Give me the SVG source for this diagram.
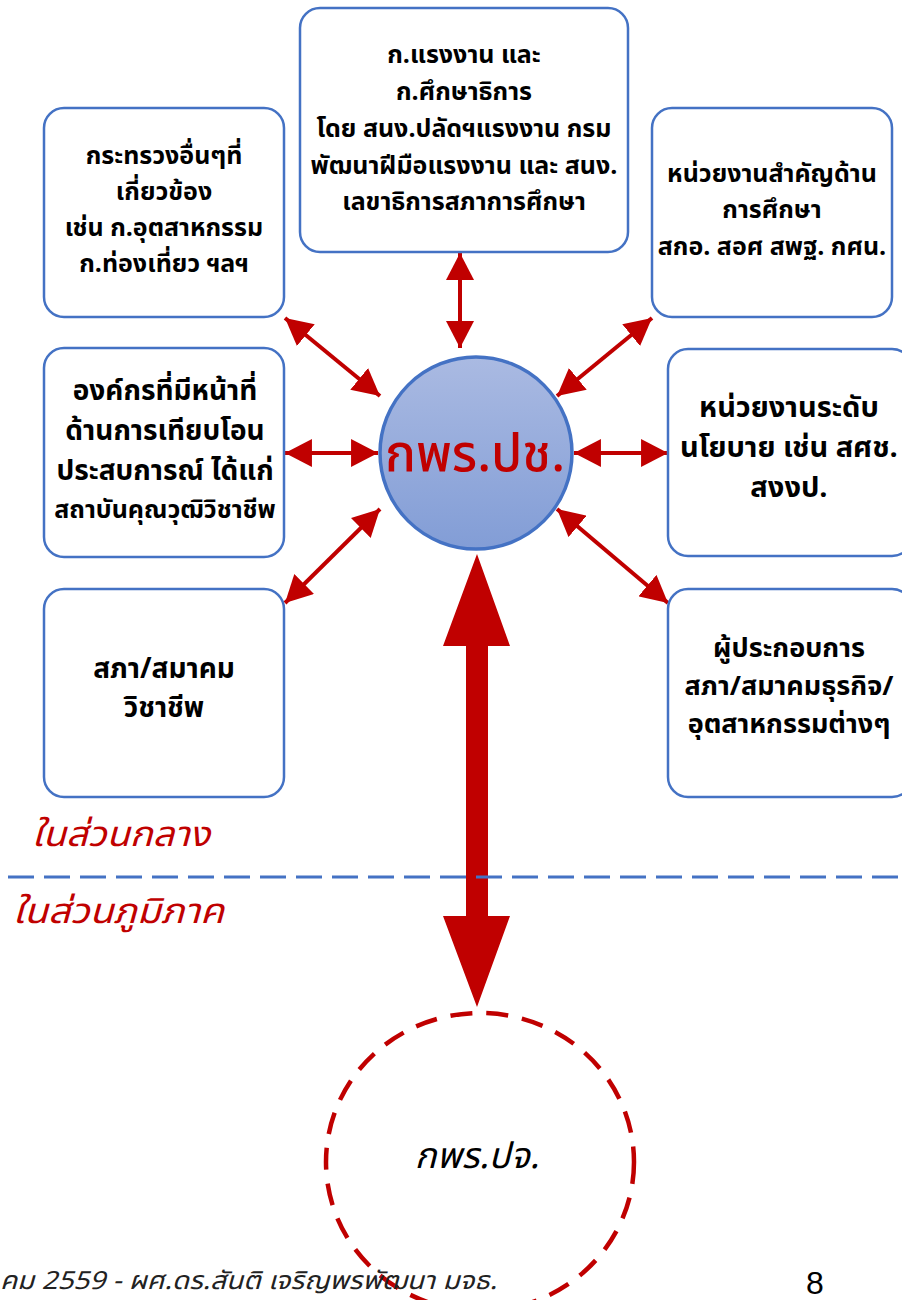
<svg xmlns="http://www.w3.org/2000/svg" width="902" height="1300" viewBox="0 0 902 1300">
<style>
.box{fill:#fff;stroke:#4472C4;stroke-width:2.5}
.t{font-family:"Noto Sans Thai","Noto Sans","DejaVu Sans",sans-serif;font-weight:bold;fill:#000;text-anchor:middle}
.s25{font-size:25px}
.s28{font-size:28px}
.conn{stroke:#C00000;stroke-width:4;fill:none;marker-start:url(#ah);marker-end:url(#ah)}
.red{fill:#C00000}
.lbl{font-family:"Noto Sans Thai","Noto Sans","DejaVu Sans",sans-serif;font-style:italic;fill:#C00000;font-size:35px}
</style>
<defs>
<marker id="ah" markerUnits="userSpaceOnUse" markerWidth="28" markerHeight="28" refX="26" refY="13.5" orient="auto-start-reverse" viewBox="0 0 27 27">
<path d="M0,0 L26,13.5 L0,27 z" fill="#C00000"/>
</marker>
<linearGradient id="cg" x1="0" y1="0" x2="0" y2="1">
<stop offset="0" stop-color="#AABAE2"/>
<stop offset="1" stop-color="#829DD6"/>
</linearGradient>
</defs>

<g id="connectors">
<line class="conn" x1="460" y1="253" x2="460" y2="348"/>
<line class="conn" x1="285" y1="318" x2="380" y2="396"/>
<line class="conn" x1="652" y1="318" x2="557" y2="396"/>
<line class="conn" x1="285" y1="453" x2="378" y2="453"/>
<line class="conn" x1="668" y1="453" x2="574" y2="453"/>
<line class="conn" x1="285" y1="603" x2="380" y2="509"/>
<line class="conn" x1="668" y1="603" x2="557" y2="509"/>
<polygon class="red" points="477,554 510,646 488,646 488,916 510,916 477,1007 443,916 466,916 466,646 443,646"/>
</g>

<line id="divider" x1="8" y1="877" x2="902" y2="877" stroke="#4472C4" stroke-width="3" stroke-dasharray="26 10"/>

<g id="top-center">
<rect class="box" x="300" y="8" width="328" height="244" rx="20"/>
<text class="t s25"><tspan x="464" y="63">ก.แรงงาน และ</tspan><tspan x="464" y="100">ก.ศึกษาธิการ</tspan><tspan x="464" y="137">โดย สนง.ปลัดฯแรงงาน กรม</tspan><tspan x="464" y="174">พัฒนาฝีมือแรงงาน และ สนง.</tspan><tspan x="464" y="210">เลขาธิการสภาการศึกษา</tspan></text>
</g>

<g id="top-left">
<rect class="box" x="44" y="108" width="240" height="209" rx="20"/>
<text class="t s25"><tspan x="164" y="164">กระทรวงอื่นๆที่</tspan><tspan x="164" y="200">เกี่ยวข้อง</tspan><tspan x="164" y="236">เช่น ก.อุตสาหกรรม</tspan><tspan x="164" y="272">ก.ท่องเที่ยว ฯลฯ</tspan></text>
</g>

<g id="top-right">
<rect class="box" x="652" y="108" width="240" height="209" rx="20"/>
<text class="t s25"><tspan x="772" y="182">หน่วยงานสำคัญด้าน</tspan><tspan x="772" y="218">การศึกษา</tspan><tspan x="772" y="255">สกอ. สอศ สพฐ. กศน.</tspan></text>
</g>

<g id="mid-left">
<rect class="box" x="44" y="348" width="240" height="209" rx="20"/>
<text class="t s28"><tspan x="165" y="400">องค์กรที่มีหน้าที่</tspan><tspan x="165" y="440">ด้านการเทียบโอน</tspan><tspan x="165" y="480">ประสบการณ์ ได้แก่</tspan><tspan x="165" y="518" style="font-size:25px">สถาบันคุณวุฒิวิชาชีพ</tspan></text>
</g>

<g id="mid-right">
<rect class="box" x="668" y="349" width="244" height="207" rx="20"/>
<text class="t" style="font-size:29px"><tspan x="789" y="417">หน่วยงานระดับ</tspan><tspan x="789" y="457">นโยบาย เช่น สศช.</tspan><tspan x="789" y="497">สงงป.</tspan></text>
</g>

<g id="bottom-left">
<rect class="box" x="44" y="589" width="240" height="208" rx="20"/>
<text class="t s28"><tspan x="164" y="678">สภา/สมาคม</tspan><tspan x="164" y="717">วิชาชีพ</tspan></text>
</g>

<g id="bottom-right">
<rect class="box" x="668" y="589" width="244" height="208" rx="20"/>
<text class="t" style="font-size:27px"><tspan x="789" y="657">ผู้ประกอบการ</tspan><tspan x="789" y="695">สภา/สมาคมธุรกิจ/</tspan><tspan x="789" y="733">อุตสาหกรรมต่างๆ</tspan></text>
</g>

<g id="center">
<circle cx="476" cy="453" r="96" fill="url(#cg)" stroke="#4472C4" stroke-width="3.5"/>
<text x="475" y="471" text-anchor="middle" font-family="'Noto Sans Thai','Noto Sans','DejaVu Sans',sans-serif" font-size="51" font-weight="500" fill="#C00000">กพร.ปช.</text>
</g>

<g id="regional">
<ellipse cx="480" cy="1162" rx="154" ry="149" fill="none" stroke="#C00000" stroke-width="4.5" stroke-dasharray="22 14"/>
<text x="477" y="1168" text-anchor="middle" font-family="'Noto Sans Thai','Noto Sans','DejaVu Sans',sans-serif" font-style="italic" font-size="36" fill="#000">กพร.ปจ.</text>
</g>

<text class="lbl" x="32" y="846" textLength="178" lengthAdjust="spacingAndGlyphs">ในส่วนกลาง</text>
<text class="lbl" x="13" y="923" textLength="211" lengthAdjust="spacingAndGlyphs">ในส่วนภูมิภาค</text>

<text x="0" y="1289" font-family="'Noto Sans Thai','Noto Sans','DejaVu Sans',sans-serif" font-style="italic" font-size="25" fill="#222" textLength="497" lengthAdjust="spacingAndGlyphs">คม 2559 - ผศ.ดร.สันติ เจริญพรพัฒนา มจธ.</text>
<text x="815" y="1294" text-anchor="middle" font-family="'Liberation Sans',Arial,sans-serif" font-size="32" fill="#000">8</text>
</svg>
